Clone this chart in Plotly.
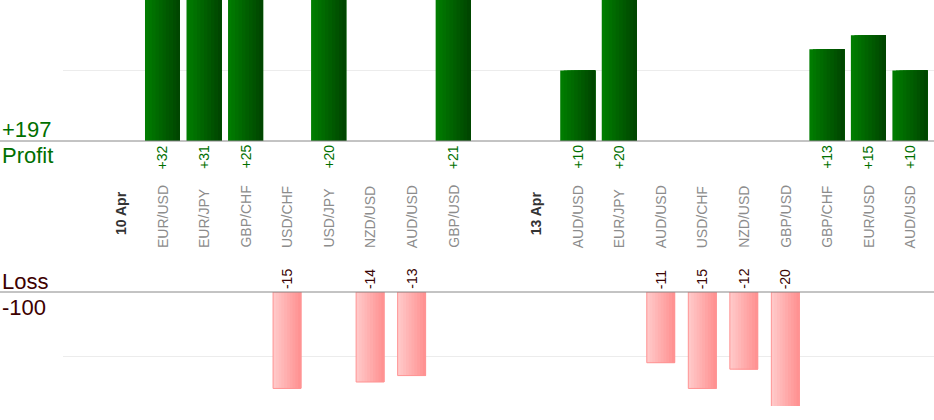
import plotly.graph_objects as go

# ---- data ----
row_labels = ["10 Apr", "EUR/USD", "EUR/JPY", "GBP/CHF", "USD/CHF", "USD/JPY", "NZD/USD",
              "AUD/USD", "GBP/USD", "", "13 Apr", "AUD/USD", "EUR/JPY", "AUD/USD",
              "USD/CHF", "NZD/USD", "GBP/USD", "GBP/CHF", "EUR/USD", "AUD/USD"]
pips = [None, 32, 31, 25, -15, 20, -14, -13, 21, None, None, 10, 20, -11, -15, -12,
        -20, 13, 15, 10]
date_rows = ["10 Apr", "13 Apr"]

W, H = 934, 420
xs = list(range(len(row_labels)))
profit = [p if (p is not None and p > 0) else None for p in pips]
loss = [p if (p is not None and p < 0) else None for p in pips]
total_profit = sum(p for p in profit if p is not None)
total_loss = sum(p for p in loss if p is not None)

def py(px):  # pixel from top -> paper fraction
    return 1 - px / H

def lerp(c1, c2, t):
    return "rgb(%d,%d,%d)" % tuple(round(a + (b - a) * t) for a, b in zip(c1, c2))

fig = go.Figure()

# green gradient bars (profit)
N = 10
wg = 0.843
g_left, g_right = (0, 124, 0), (0, 70, 0)
for k in range(N):
    off = -wg / 2 + k * wg / N
    fig.add_trace(go.Bar(x=xs, y=profit, offset=off, width=wg - k * wg / N,
                         marker=dict(color=lerp(g_left, g_right, k / (N - 1)), line=dict(width=0)),
                         xaxis="x", yaxis="y", hoverinfo="skip"))

# pink gradient bars (loss)
wp = 0.674
p_left, p_right = (255, 200, 200), (255, 146, 146)
for k in range(N):
    off = -wp / 2 + k * wp / N
    fig.add_trace(go.Bar(x=xs, y=loss, offset=off, width=wp - k * wp / N,
                         marker=dict(color=lerp(p_left, p_right, k / (N - 1)), line=dict(width=0)),
                         xaxis="x", yaxis="y2", hoverinfo="skip"))
fig.add_trace(go.Bar(x=xs, y=loss, offset=-wp / 2, width=wp,
                     marker=dict(color="rgba(0,0,0,0)", line=dict(width=1, color="#ff9494")),
                     xaxis="x", yaxis="y2", hoverinfo="skip"))

ann = []
FONT = "Arial, Liberation Sans, sans-serif"
for i, (lab, p) in enumerate(zip(row_labels, pips)):
    if lab in date_rows:
        ann.append(dict(x=i, xref="x", y=py(237), yref="paper", yanchor="bottom",
                        text="<b>%s</b>" % lab, textangle=-90, showarrow=False,
                        font=dict(family=FONT, size=14, color="#333333")))
    elif lab:
        ann.append(dict(x=i, xref="x", y=py(250), yref="paper", yanchor="bottom",
                        text=lab, textangle=-90, showarrow=False,
                        font=dict(family=FONT, size=14, color="#8c8c8c")))
    if p is not None and p > 0:
        ann.append(dict(x=i, xref="x", y=py(143), yref="paper", yanchor="top",
                        text="+%d" % p, textangle=-90, showarrow=False,
                        font=dict(family=FONT, size=14, color="#006f00")))
    elif p is not None and p < 0:
        ann.append(dict(x=i, xref="x", y=py(291), yref="paper", yanchor="bottom",
                        text="%d" % p, textangle=-90, showarrow=False,
                        font=dict(family=FONT, size=14, color="#3a0505")))

for txt, yc, col in [("+%d" % total_profit, 129.5, "#006f00"), ("Profit", 155, "#006f00"),
                     ("Loss", 281, "#3d0000"), ("%d" % total_loss, 307.5, "#3d0000")]:
    ann.append(dict(x=0, xref="paper", xanchor="left", xshift=0, y=py(yc), yref="paper",
                    yanchor="middle", text=txt, showarrow=False,
                    font=dict(family=FONT, size=22, color=col)))

axis_common = dict(showticklabels=False, ticks="", zeroline=False, showline=False,
                   gridcolor="#ececec", gridwidth=1, fixedrange=True)

fig.update_layout(
    width=W, height=H, margin=dict(l=0, r=0, t=0, b=0),
    paper_bgcolor="white", plot_bgcolor="white", showlegend=False, barmode="overlay",
    xaxis=dict(domain=[63 / W, 1], range=[-1.396, 19.58], showgrid=False, zeroline=False,
               showticklabels=False, ticks="", showline=False, fixedrange=True),
    yaxis=dict(domain=[py(141), 1], range=[0, 20], tickvals=[10, 20], showgrid=True,
               **axis_common),
    yaxis2=dict(domain=[py(406), py(292)], range=[-17.73, 0], tickvals=[-10], showgrid=True,
                anchor="x", **axis_common),
    annotations=ann,
    shapes=[dict(type="line", xref="paper", yref="paper", x0=0, x1=1, y0=py(141), y1=py(141),
                 line=dict(color="#888888", width=1), layer="above"),
            dict(type="line", xref="paper", yref="paper", x0=0, x1=1, y0=py(292), y1=py(292),
                 line=dict(color="#888888", width=1), layer="above")],
)

fig.write_html("out.html", config={"displayModeBar": False},
               post_script="document.body.style.margin='0';document.body.style.overflow='hidden';")
